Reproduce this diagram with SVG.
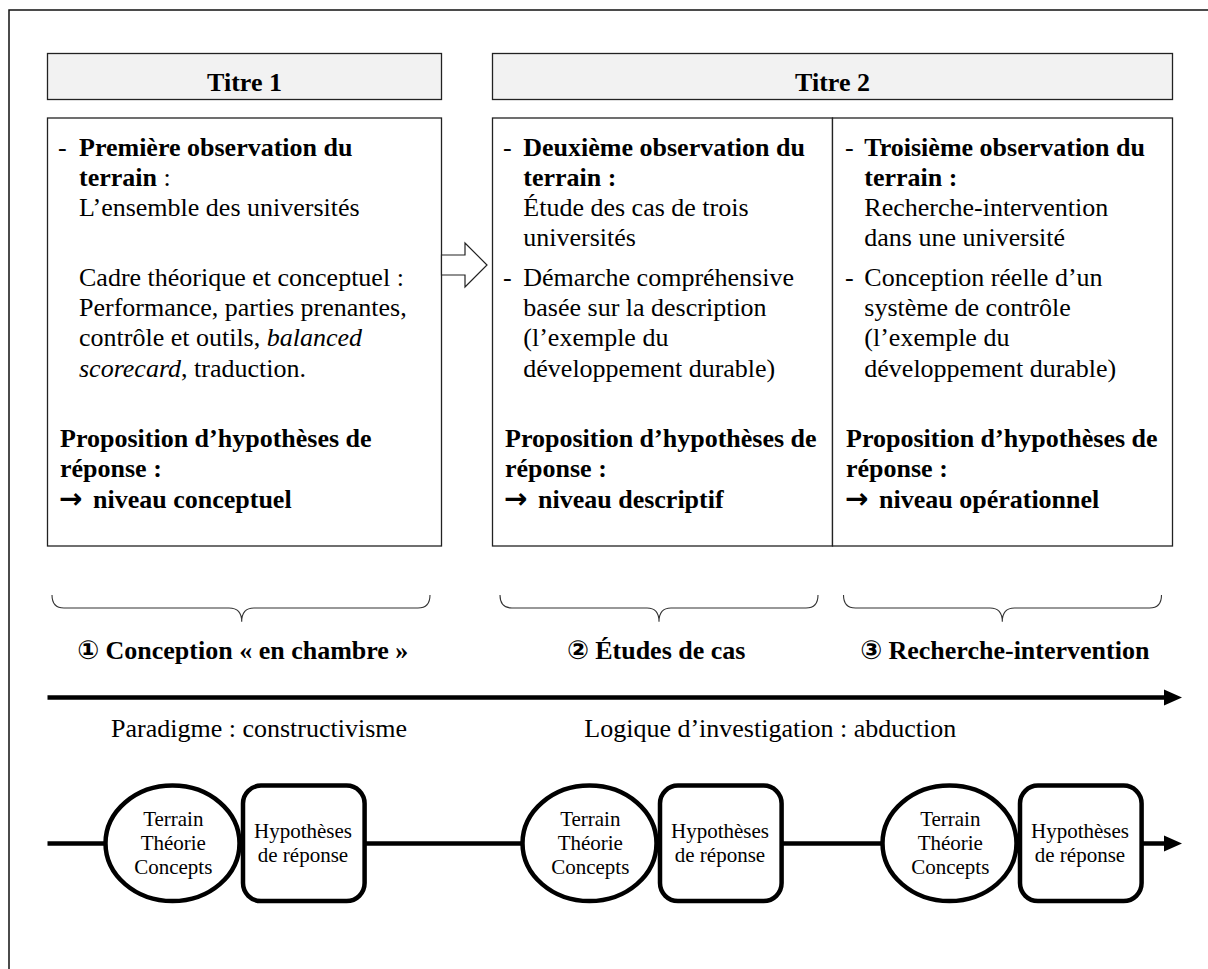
<svg xmlns="http://www.w3.org/2000/svg" width="1208" height="969" viewBox="0 0 1208 969">
<style>
text{font-family:"Liberation Serif","Times New Roman","DejaVu Serif",serif;fill:#000}
.t{font-size:26px}
.b{font-weight:bold}
.s{font-size:21px}
.ar{font-family:"DejaVu Sans",sans-serif;font-weight:bold;font-size:28px}
.box{fill:#fff;stroke:#222;stroke-width:1.3}
.hdr{fill:#f2f2f2;stroke:#222;stroke-width:1.3}
.brace{fill:none;stroke:#333;stroke-width:1.1}
.node{fill:#fff;stroke:#000;stroke-width:4.5}
</style>
<rect x="9" y="10" width="1215" height="975" fill="none" stroke="#111" stroke-width="1.5"/>

<g id="titre1">
<rect class="hdr" x="47.5" y="53.5" width="394" height="46"/>
<text class="t b" x="244.5" y="91" text-anchor="middle">Titre 1</text>
</g>
<g id="titre2">
<rect class="hdr" x="492.5" y="53.5" width="680" height="46"/>
<text class="t b" x="832.5" y="91" text-anchor="middle">Titre 2</text>
</g>

<g id="box1">
<rect class="box" x="47.5" y="118" width="394" height="428"/>
<text class="t" x="58" y="155.5">-</text>
<text class="t b" x="79" y="155.5">Première observation du</text>
<text class="t" x="79" y="185.7"><tspan class="b">terrain</tspan> :</text>
<text class="t" x="79" y="215.9">L’ensemble des universités</text>
<text class="t" x="79" y="286">Cadre théorique et conceptuel :</text>
<text class="t" x="79" y="316.2">Performance, parties prenantes,</text>
<text class="t" x="79" y="346.4">contrôle et outils, <tspan font-style="italic">balanced</tspan></text>
<text class="t" x="79" y="376.6"><tspan font-style="italic">scorecard</tspan>, traduction.</text>
<text class="t b" x="60" y="447">Proposition d’hypothèses de</text>
<text class="t b" x="60" y="477.3">réponse :</text>
<text class="ar" x="59" y="507.6">→</text>
<text class="t b" x="93" y="507.6">niveau conceptuel</text>
</g>

<g id="box2">
<rect class="box" x="492.5" y="118" width="340" height="428"/>
<text class="t" x="503" y="155.5">-</text>
<text class="t b" x="523.3" y="155.5">Deuxième observation du</text>
<text class="t b" x="523.3" y="185.7">terrain :</text>
<text class="t" x="523.3" y="215.9">Étude des cas de trois</text>
<text class="t" x="523.3" y="246.1">universités</text>
<text class="t" x="503" y="286">-</text>
<text class="t" x="523.3" y="286">Démarche compréhensive</text>
<text class="t" x="523.3" y="316.2">basée sur la description</text>
<text class="t" x="523.3" y="346.4">(l’exemple du</text>
<text class="t" x="523.3" y="376.6">développement durable)</text>
<text class="t b" x="505" y="447">Proposition d’hypothèses de</text>
<text class="t b" x="505" y="477.3">réponse :</text>
<text class="ar" x="504" y="507.6">→</text>
<text class="t b" x="538" y="507.6">niveau descriptif</text>
</g>

<g id="box3">
<rect class="box" x="832.5" y="118" width="340" height="428"/>
<text class="t" x="845" y="155.5">-</text>
<text class="t b" x="864.3" y="155.5">Troisième observation du</text>
<text class="t b" x="864.3" y="185.7">terrain :</text>
<text class="t" x="864.3" y="215.9">Recherche-intervention</text>
<text class="t" x="864.3" y="246.1">dans une université</text>
<text class="t" x="845" y="286">-</text>
<text class="t" x="864.3" y="286">Conception réelle d’un</text>
<text class="t" x="864.3" y="316.2">système de contrôle</text>
<text class="t" x="864.3" y="346.4">(l’exemple du</text>
<text class="t" x="864.3" y="376.6">développement durable)</text>
<text class="t b" x="846" y="447">Proposition d’hypothèses de</text>
<text class="t b" x="846" y="477.3">réponse :</text>
<text class="ar" x="845" y="507.6">→</text>
<text class="t b" x="879" y="507.6">niveau opérationnel</text>
</g>

<g id="connectors">
<polygon points="441.5,255 465,255 465,243 487,265 465,287 465,275 441.5,275" fill="#fff" stroke="#222" stroke-width="1.2"/>
<path class="brace" d="M52,595 Q52,608 64,608 L229,608 Q241.7,608 241.7,621.7 Q241.7,608 254,608 L418,608 Q430,608 430,595"/>
<path class="brace" d="M500,595 Q500,608 512,608 L647,608 Q659,608 659,621.7 Q659,608 671,608 L806,608 Q818,608 818,595"/>
<path class="brace" d="M843.5,595 Q843.5,608 855.5,608 L990,608 Q1002.3,608 1002.3,621.7 Q1002.3,608 1014.5,608 L1149.5,608 Q1161.5,608 1161.5,595"/>
<line x1="47.5" y1="697.5" x2="1166" y2="697.5" stroke="#000" stroke-width="4.3"/>
<polygon points="1164,689.5 1182,697.5 1164,705.5" fill="#000"/>
<line x1="47.5" y1="843.5" x2="1166" y2="843.5" stroke="#000" stroke-width="4.3"/>
<polygon points="1164,835.5 1182,843.5 1164,851.5" fill="#000"/>
</g>

<g id="labels">
<text class="t b" x="77" y="659.3"><tspan font-family="DejaVu Sans">①</tspan> Conception « en chambre »</text>
<text class="t b" x="566.7" y="659.3"><tspan font-family="DejaVu Sans">②</tspan> Études de cas</text>
<text class="t b" x="860" y="659.3"><tspan font-family="DejaVu Sans">③</tspan> Recherche-intervention</text>
<text class="t" x="111" y="736.7">Paradigme : constructivisme</text>
<text class="t" x="584.3" y="736.7">Logique d’investigation : abduction</text>
</g>

<g id="cycle1">
<ellipse class="node" cx="172.5" cy="843.3" rx="67" ry="57.8"/>
<text class="s" x="173.3" y="826" text-anchor="middle">Terrain</text>
<text class="s" x="173.3" y="850" text-anchor="middle">Théorie</text>
<text class="s" x="173.3" y="874" text-anchor="middle">Concepts</text>
<rect class="node" x="243" y="785.6" width="121.6" height="115.5" rx="18"/>
<text class="s" x="303" y="837.7" text-anchor="middle">Hypothèses</text>
<text class="s" x="303" y="861.7" text-anchor="middle">de réponse</text>
</g>
<g id="cycle2">
<ellipse class="node" cx="589.5" cy="843.3" rx="67" ry="57.8"/>
<text class="s" x="590.3" y="826" text-anchor="middle">Terrain</text>
<text class="s" x="590.3" y="850" text-anchor="middle">Théorie</text>
<text class="s" x="590.3" y="874" text-anchor="middle">Concepts</text>
<rect class="node" x="660" y="785.6" width="121.6" height="115.5" rx="18"/>
<text class="s" x="720" y="837.7" text-anchor="middle">Hypothèses</text>
<text class="s" x="720" y="861.7" text-anchor="middle">de réponse</text>
</g>
<g id="cycle3">
<ellipse class="node" cx="949.5" cy="843.3" rx="67" ry="57.8"/>
<text class="s" x="950.3" y="826" text-anchor="middle">Terrain</text>
<text class="s" x="950.3" y="850" text-anchor="middle">Théorie</text>
<text class="s" x="950.3" y="874" text-anchor="middle">Concepts</text>
<rect class="node" x="1020" y="785.6" width="121.6" height="115.5" rx="18"/>
<text class="s" x="1080" y="837.7" text-anchor="middle">Hypothèses</text>
<text class="s" x="1080" y="861.7" text-anchor="middle">de réponse</text>
</g>
</svg>
